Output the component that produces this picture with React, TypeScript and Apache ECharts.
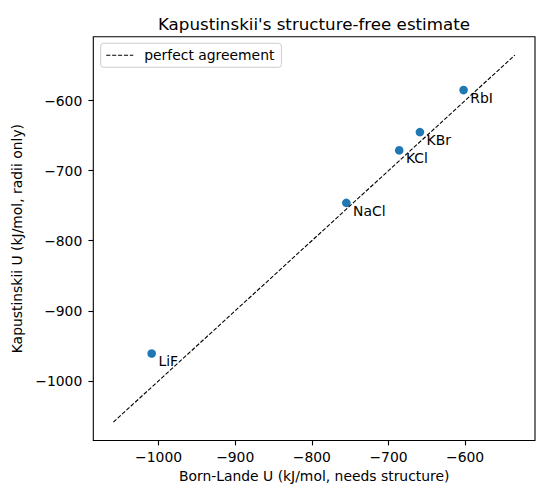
import { useEffect, useRef } from "react";
import * as echarts from "echarts";

const compounds = ["LiF", "NaCl", "KCl", "KBr", "RbI"];
const bornLande = [-1009, -755, -686, -659, -602];
const kapustinskii = [-961, -746, -671, -645, -585];
const tickValues = [-1000, -900, -800, -700, -600];

const FONT = "DejaVu Sans";
const minus = (v: number) => String(v).replace("-", "\u2212");

export default function App() {
  const hostRef = useRef<HTMLDivElement>(null);

  useEffect(() => {
    const el = hostRef.current;
    if (!el) return;
    const chart = echarts.init(el, undefined, { renderer: "svg" });

    // reference line spans the data +/- 50, axes get matplotlib's 5% margin
    const all = [...bornLande, ...kapustinskii];
    const lo = Math.min(...all) - 50;
    const hi = Math.max(...all) + 50;
    const pad = (hi - lo) * 0.05;

    const axisCommon = {
      type: "value" as const,
      min: lo - pad,
      max: hi + pad,
      scale: true,
      splitLine: { show: false },
      axisLine: { show: false },
      axisTick: {
        show: true,
        customValues: tickValues,
        length: 4.9,
        lineStyle: { color: "#000", width: 1.1 },
      },
      nameLocation: "middle" as const,
      nameTextStyle: { fontFamily: FONT, fontSize: 13.9, color: "#000" },
    };

    chart.setOption({
      animation: false,
      textStyle: { fontFamily: FONT },
      title: {
        text: "Kapustinskii's structure-free estimate",
        left: 314,
        top: 15,
        padding: 0,
        textAlign: "center",
        textStyle: { fontFamily: FONT, fontSize: 16.7, fontWeight: "normal", color: "#000" },
      },
      grid: {
        left: 93.3,
        right: 15,
        top: 36.7,
        bottom: 59.5,
        show: true,
        borderColor: "#000",
        borderWidth: 1.1,
        outerBoundsMode: "none",
      },
      legend: {
        left: 100.7,
        top: 43.3,
        padding: [5, 7, 5, 5],
        itemWidth: 27,
        itemHeight: 10,
        borderColor: "#cccccc",
        borderWidth: 1,
        borderRadius: 3,
        backgroundColor: "rgba(255,255,255,0.8)",
        itemStyle: { opacity: 0 },
        lineStyle: { color: "#000", width: 1.1, type: [4.1, 1.8], opacity: 1 },
        textStyle: { fontFamily: FONT, fontSize: 13.9, color: "#000", padding: [0, 0, 0, 6] },
        data: ["perfect agreement"],
      },
      xAxis: {
        ...axisCommon,
        name: "Born-Lande U (kJ/mol, needs structure)",
        nameGap: 28.5,
        axisLabel: {
          customValues: tickValues,
          margin: 9,
          fontFamily: FONT,
          fontSize: 13.9,
          color: "#000",
          formatter: minus,
        },
      },
      yAxis: {
        ...axisCommon,
        name: "Kapustinskii U (kJ/mol, radii only)",
        nameGap: 51,
        nameRotate: 90,
        axisLabel: {
          customValues: tickValues,
          margin: 11,
          fontFamily: FONT,
          fontSize: 13.9,
          color: "#000",
          formatter: minus,
        },
      },
      series: [
        {
          type: "scatter",
          symbolSize: 8.6,
          itemStyle: { color: "#1f77b4", opacity: 1 },
          z: 2,
          label: {
            show: true,
            position: [11, 5],
            align: "left",
            verticalAlign: "top",
            fontFamily: FONT,
            fontSize: 13.9,
            color: "#000",
            formatter: (p: any) => compounds[p.dataIndex],
          },
          data: bornLande.map((x, i) => [x, kapustinskii[i]]),
        },
        {
          name: "perfect agreement",
          type: "line",
          symbol: "none",
          z: 3,
          lineStyle: { color: "#000", width: 1.1, type: [4.1, 1.8] },
          itemStyle: { color: "#000" },
          data: [
            [lo, lo],
            [hi, hi],
          ],
        },
      ],
    });

    return () => chart.dispose();
  }, []);

  return (
    <div
      ref={hostRef}
      style={{ position: "fixed", left: 0, top: 0, width: 550, height: 500, background: "#fff" }}
    />
  );
}
